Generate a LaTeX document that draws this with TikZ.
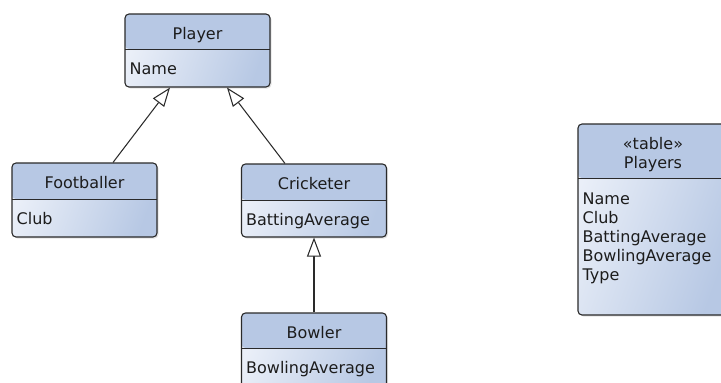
\documentclass[tikz,border=0pt]{standalone}
\usepackage{fontspec}
\setmainfont{DejaVu Sans}
\usepackage{xcolor}
\usetikzlibrary{arrows.meta, positioning, shadows}

\definecolor{headblue}{HTML}{B7C8E4}
\definecolor{bodylight}{HTML}{EAEFF8}
\definecolor{umlline}{HTML}{2A2A2A}
\definecolor{umltext}{HTML}{1C1C1C}

\begin{document}
\begin{tikzpicture}[x=1pt, y=-1pt,
  classbox/.style={draw=umlline, line width=1.1pt, rounded corners=4pt, minimum width=145pt, inner sep=0pt,
    top color=bodylight, bottom color=headblue, shading angle=70,
    drop shadow={shadow xshift=1.5pt, shadow yshift=-1.5pt, opacity=0.22},
    path picture={
      \fill[headblue] (path picture bounding box.north west) rectangle ([yshift=-#1]path picture bounding box.north east);
      \draw[umlline, line width=0.9pt] ([yshift=-#1]path picture bounding box.north west) -- ([yshift=-#1]path picture bounding box.north east);
    }},
  headtext/.style={anchor=base, inner sep=0pt, align=center, text=umltext, font=\fontsize{16}{19}\selectfont},
  fieldtext/.style={anchor=base west, inner sep=0pt, align=left, text=umltext, font=\fontsize{16}{19}\selectfont},
  inherit/.style={-{Triangle[fill=white, length=19pt, width=14pt]}, line width=1.05pt, umlline}
]
\useasboundingbox (0,0) rectangle (721,383);
\clip (0,0) rectangle (721,383);

% classes
\node[classbox=35, minimum height=73] (player) at (197.5,50.5) {};
\node[classbox=36, minimum height=74] (footballer) at (84.5,200) {};
\node[classbox=36, minimum height=73] (cricketer) at (314,200.5) {};
\node[classbox=35, minimum height=76] (bowler) at (314,351) {};
\node[classbox=54, minimum width=150, minimum height=191] (players) at (653,219.5) {};

\node[headtext] (playerTitle) at ([yshift=-26]player.north) {Player};
\node[fieldtext] (playerFields) at ([xshift=5, yshift=-61]player.north west) {Name};
\node[headtext] (footballerTitle) at ([yshift=-26]footballer.north) {Footballer};
\node[fieldtext] (footballerFields) at ([xshift=5, yshift=-62]footballer.north west) {Club};
\node[headtext] (cricketerTitle) at ([yshift=-26]cricketer.north) {Cricketer};
\node[fieldtext] (cricketerFields) at ([xshift=5, yshift=-62]cricketer.north west) {BattingAverage};
\node[headtext] (bowlerTitle) at ([yshift=-26]bowler.north) {Bowler};
\node[fieldtext] (bowlerFields) at ([xshift=5, yshift=-61]bowler.north west) {BowlingAverage};

% table
\node[headtext] (playersTitle) at ([yshift=-45]players.north) {«table»\\Players};
\node[fieldtext] (playersFields) at ([xshift=5, yshift=-157.5]players.north west) {Name\\Club\\BattingAverage\\BowlingAverage\\Type};

% generalisation
\draw[inherit] ([xshift=28.5]footballer.north) -- ([xshift=-27.5]player.south);
\draw[inherit] ([xshift=-29]cricketer.north) -- ([xshift=29.5]player.south);
\draw[inherit] (bowler.north) -- (cricketer.south);
\end{tikzpicture}
\end{document}
